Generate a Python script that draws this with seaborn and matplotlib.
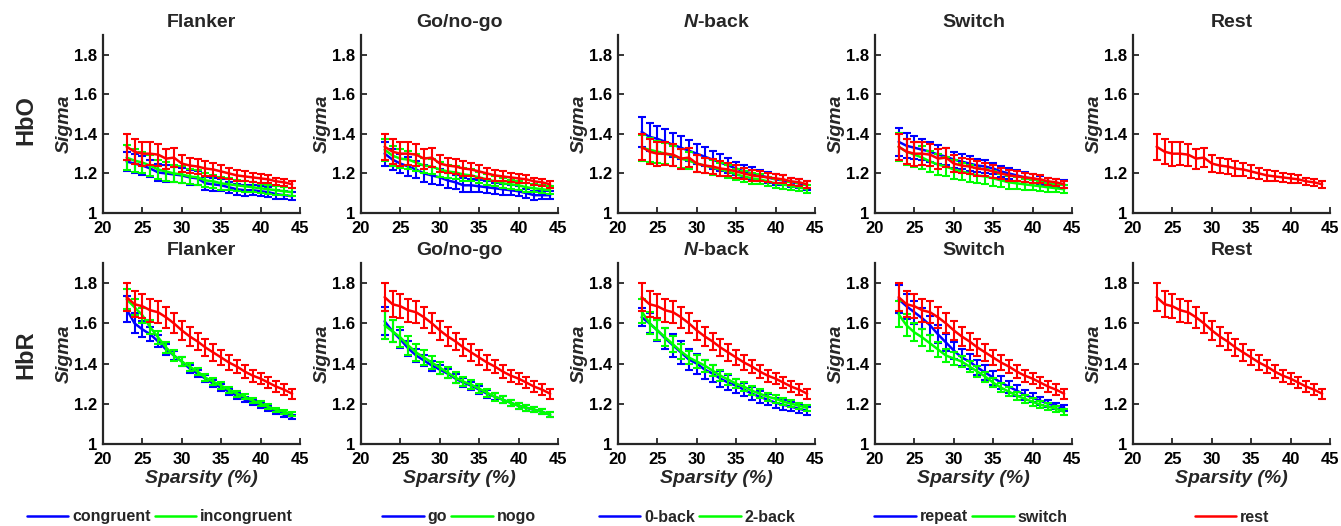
import matplotlib
matplotlib.use('Agg')
import numpy as np
import pandas as pd
import matplotlib.pyplot as plt
from matplotlib.lines import Line2D
import seaborn as sns

# sparsity levels (%)
sparsity = [23, 24, 25, 26, 27, 28, 29, 30, 31, 32, 33, 34, 35, 36, 37, 38, 39, 40, 41, 42, 43, 44]

tasks = ['Flanker', 'Go/no-go', r'$\it{N}$-back', 'Switch', 'Rest']
rows = ['HbO', 'HbR']
conditions = [('congruent', 'incongruent'), ('go', 'nogo'), ('0-back', '2-back'), ('repeat', 'switch'), ()]
ytick_labels = ['1', '1.2', '1.4', '1.6', '1.8']
xtick_labels = ['20', '25', '30', '35', '40', '45']

# ---- HbO ----
hbo_rest = [1.335, 1.31, 1.30, 1.30, 1.295, 1.275, 1.28, 1.25, 1.24, 1.235, 1.225,
            1.22, 1.21, 1.20, 1.19, 1.185, 1.18, 1.175, 1.17, 1.16, 1.155, 1.145]
hbo_rest_err = [0.065, 0.062, 0.06, 0.058, 0.055, 0.05, 0.048, 0.042, 0.04, 0.038, 0.036,
                0.034, 0.031, 0.029, 0.027, 0.025, 0.023, 0.021, 0.02, 0.019, 0.018, 0.017]

hbo_congruent = [1.26, 1.25, 1.24, 1.225, 1.205, 1.20, 1.195, 1.19, 1.18, 1.175, 1.15,
                 1.145, 1.14, 1.13, 1.12, 1.115, 1.115, 1.11, 1.105, 1.095, 1.09, 1.085]
hbo_congruent_err = [0.05, 0.048, 0.046, 0.044, 0.043, 0.042, 0.04, 0.038, 0.036, 0.035, 0.033,
                     0.032, 0.03, 0.029, 0.028, 0.027, 0.026, 0.025, 0.024, 0.022, 0.021, 0.02]
hbo_incongruent = [1.28, 1.265, 1.255, 1.24, 1.22, 1.21, 1.20, 1.195, 1.185, 1.18, 1.165,
                   1.16, 1.15, 1.145, 1.14, 1.135, 1.13, 1.125, 1.12, 1.115, 1.11, 1.105]
hbo_incongruent_err = [0.062, 0.058, 0.055, 0.052, 0.05, 0.048, 0.045, 0.043, 0.04, 0.038, 0.036,
                       0.034, 0.032, 0.03, 0.028, 0.027, 0.026, 0.024, 0.023, 0.022, 0.021, 0.02]

hbo_go = [1.30, 1.27, 1.25, 1.235, 1.22, 1.20, 1.19, 1.18, 1.165, 1.155, 1.14,
          1.14, 1.135, 1.13, 1.125, 1.12, 1.115, 1.11, 1.10, 1.09, 1.09, 1.09]
hbo_go_err = [0.06, 0.055, 0.05, 0.047, 0.045, 0.043, 0.041, 0.04, 0.038, 0.036, 0.035,
              0.033, 0.031, 0.03, 0.028, 0.027, 0.025, 0.024, 0.023, 0.022, 0.021, 0.02]
hbo_nogo = [1.32, 1.29, 1.275, 1.27, 1.255, 1.24, 1.235, 1.22, 1.21, 1.205, 1.195,
            1.19, 1.18, 1.17, 1.16, 1.15, 1.145, 1.14, 1.13, 1.125, 1.12, 1.115]
hbo_nogo_err = [0.055, 0.05, 0.047, 0.045, 0.043, 0.04, 0.038, 0.036, 0.034, 0.033, 0.031,
                0.03, 0.028, 0.027, 0.026, 0.025, 0.024, 0.023, 0.022, 0.021, 0.02, 0.019]

hbo_0back = [1.41, 1.385, 1.375, 1.36, 1.345, 1.33, 1.315, 1.30, 1.285, 1.27, 1.255,
             1.24, 1.225, 1.21, 1.20, 1.19, 1.18, 1.17, 1.165, 1.155, 1.15, 1.14]
hbo_0back_err = [0.075, 0.07, 0.067, 0.063, 0.06, 0.057, 0.053, 0.05, 0.047, 0.045, 0.042,
                 0.04, 0.035, 0.033, 0.031, 0.029, 0.027, 0.026, 0.025, 0.024, 0.023, 0.022]
hbo_2back = [1.33, 1.32, 1.31, 1.30, 1.29, 1.275, 1.265, 1.25, 1.24, 1.23, 1.22,
             1.21, 1.195, 1.185, 1.175, 1.17, 1.16, 1.15, 1.145, 1.135, 1.13, 1.12]
hbo_2back_err = [0.065, 0.06, 0.056, 0.052, 0.05, 0.047, 0.044, 0.041, 0.039, 0.036, 0.034,
                 0.032, 0.03, 0.028, 0.027, 0.025, 0.024, 0.023, 0.022, 0.021, 0.02, 0.02]

hbo_repeat = [1.36, 1.34, 1.33, 1.32, 1.31, 1.295, 1.285, 1.27, 1.26, 1.25, 1.24,
              1.235, 1.225, 1.21, 1.20, 1.19, 1.18, 1.175, 1.165, 1.155, 1.15, 1.145]
hbo_repeat_err = [0.07, 0.062, 0.058, 0.054, 0.05, 0.047, 0.044, 0.04, 0.038, 0.036, 0.034,
                  0.032, 0.03, 0.028, 0.027, 0.026, 0.025, 0.024, 0.023, 0.022, 0.021, 0.02]
hbo_switch = [1.335, 1.31, 1.295, 1.28, 1.26, 1.245, 1.235, 1.22, 1.21, 1.20, 1.19,
              1.185, 1.175, 1.165, 1.155, 1.15, 1.145, 1.14, 1.135, 1.13, 1.125, 1.12]
hbo_switch_err = [0.07, 0.065, 0.062, 0.058, 0.055, 0.052, 0.05, 0.047, 0.045, 0.043, 0.04,
                  0.038, 0.036, 0.034, 0.032, 0.03, 0.028, 0.026, 0.025, 0.023, 0.021, 0.02]

# ---- HbR ----
hbr_rest = [1.73, 1.695, 1.685, 1.665, 1.655, 1.63, 1.60, 1.565, 1.535, 1.51, 1.48,
            1.455, 1.43, 1.405, 1.385, 1.36, 1.34, 1.325, 1.305, 1.285, 1.27, 1.25]
hbr_rest_err = [0.07, 0.065, 0.06, 0.058, 0.055, 0.053, 0.05, 0.048, 0.046, 0.044, 0.042,
                0.04, 0.038, 0.036, 0.034, 0.032, 0.03, 0.029, 0.028, 0.027, 0.026, 0.025]

hbr_congruent = [1.67, 1.60, 1.57, 1.545, 1.51, 1.47, 1.44, 1.41, 1.375, 1.35, 1.325,
                 1.30, 1.28, 1.26, 1.24, 1.22, 1.205, 1.19, 1.175, 1.16, 1.145, 1.135]
hbr_congruent_err = [0.065, 0.05, 0.04, 0.035, 0.03, 0.027, 0.024, 0.022, 0.02, 0.019, 0.018,
                     0.017, 0.016, 0.015, 0.014, 0.013, 0.013, 0.012, 0.012, 0.011, 0.011, 0.01]
hbr_incongruent = [1.72, 1.68, 1.64, 1.58, 1.53, 1.48, 1.44, 1.41, 1.385, 1.36, 1.33,
                   1.31, 1.29, 1.27, 1.25, 1.235, 1.215, 1.20, 1.185, 1.17, 1.16, 1.15]
hbr_incongruent_err = [0.05, 0.04, 0.037, 0.035, 0.032, 0.028, 0.025, 0.022, 0.02, 0.019, 0.018,
                       0.017, 0.016, 0.015, 0.014, 0.013, 0.013, 0.012, 0.012, 0.011, 0.011, 0.01]

hbr_go = [1.61, 1.56, 1.52, 1.475, 1.44, 1.415, 1.39, 1.37, 1.35, 1.325, 1.305,
          1.29, 1.27, 1.25, 1.235, 1.22, 1.205, 1.19, 1.18, 1.17, 1.16, 1.145]
hbr_go_err = [0.07, 0.055, 0.045, 0.035, 0.03, 0.026, 0.025, 0.024, 0.023, 0.022, 0.021,
              0.02, 0.02, 0.019, 0.018, 0.017, 0.016, 0.015, 0.014, 0.013, 0.013, 0.012]
hbr_nogo = [1.59, 1.56, 1.53, 1.49, 1.455, 1.43, 1.405, 1.38, 1.355, 1.33, 1.31,
            1.295, 1.275, 1.255, 1.235, 1.22, 1.205, 1.19, 1.18, 1.17, 1.16, 1.145]
hbr_nogo_err = [0.07, 0.055, 0.05, 0.045, 0.04, 0.036, 0.033, 0.03, 0.028, 0.026, 0.024,
                0.022, 0.021, 0.02, 0.019, 0.017, 0.016, 0.015, 0.014, 0.013, 0.013, 0.012]

hbr_0back = [1.63, 1.60, 1.565, 1.525, 1.49, 1.455, 1.42, 1.40, 1.37, 1.35, 1.325,
             1.305, 1.29, 1.27, 1.25, 1.235, 1.22, 1.205, 1.195, 1.185, 1.175, 1.165]
hbr_0back_err = [0.045, 0.05, 0.052, 0.054, 0.055, 0.055, 0.052, 0.05, 0.047, 0.044, 0.04,
                 0.038, 0.035, 0.033, 0.031, 0.029, 0.027, 0.025, 0.024, 0.022, 0.021, 0.02]
hbr_2back = [1.66, 1.60, 1.565, 1.53, 1.495, 1.46, 1.43, 1.41, 1.39, 1.365, 1.34,
             1.32, 1.30, 1.285, 1.265, 1.25, 1.235, 1.225, 1.21, 1.20, 1.19, 1.18]
hbr_2back_err = [0.06, 0.055, 0.05, 0.045, 0.04, 0.037, 0.034, 0.032, 0.03, 0.028, 0.027,
                 0.026, 0.024, 0.023, 0.022, 0.021, 0.02, 0.019, 0.018, 0.017, 0.016, 0.015]

hbr_repeat = [1.72, 1.685, 1.655, 1.625, 1.59, 1.545, 1.505, 1.465, 1.43, 1.41, 1.38,
              1.355, 1.33, 1.305, 1.285, 1.265, 1.245, 1.23, 1.215, 1.20, 1.19, 1.18]
hbr_repeat_err = [0.07, 0.062, 0.056, 0.052, 0.048, 0.045, 0.043, 0.041, 0.04, 0.038, 0.037,
                  0.036, 0.035, 0.032, 0.03, 0.027, 0.025, 0.022, 0.02, 0.018, 0.016, 0.015]
hbr_switch = [1.645, 1.59, 1.555, 1.53, 1.50, 1.47, 1.44, 1.425, 1.41, 1.385, 1.36,
              1.335, 1.305, 1.28, 1.26, 1.24, 1.225, 1.21, 1.195, 1.185, 1.175, 1.16]
hbr_switch_err = [0.065, 0.055, 0.045, 0.042, 0.04, 0.037, 0.034, 0.03, 0.028, 0.027, 0.026,
                  0.025, 0.024, 0.023, 0.022, 0.021, 0.02, 0.019, 0.018, 0.017, 0.016, 0.015]

BLUE, GREEN, RED = '#0000ff', '#00ff00', '#ff0000'

panels = {
    'HbO': [
        [('congruent', hbo_congruent, hbo_congruent_err, BLUE), ('incongruent', hbo_incongruent, hbo_incongruent_err, GREEN)],
        [('go', hbo_go, hbo_go_err, BLUE), ('nogo', hbo_nogo, hbo_nogo_err, GREEN)],
        [('0-back', hbo_0back, hbo_0back_err, BLUE), ('2-back', hbo_2back, hbo_2back_err, GREEN)],
        [('repeat', hbo_repeat, hbo_repeat_err, BLUE), ('switch', hbo_switch, hbo_switch_err, GREEN)],
        [],
    ],
    'HbR': [
        [('congruent', hbr_congruent, hbr_congruent_err, BLUE), ('incongruent', hbr_incongruent, hbr_incongruent_err, GREEN)],
        [('go', hbr_go, hbr_go_err, BLUE), ('nogo', hbr_nogo, hbr_nogo_err, GREEN)],
        [('0-back', hbr_0back, hbr_0back_err, BLUE), ('2-back', hbr_2back, hbr_2back_err, GREEN)],
        [('repeat', hbr_repeat, hbr_repeat_err, BLUE), ('switch', hbr_switch, hbr_switch_err, GREEN)],
        [],
    ],
}
rest = {'HbO': (hbo_rest, hbo_rest_err), 'HbR': (hbr_rest, hbr_rest_err)}

sns.set_style('ticks')
plt.rcParams['font.family'] = ['Liberation Sans', 'DejaVu Sans']
plt.rcParams['font.weight'] = 'bold'
plt.rcParams['mathtext.fontset'] = 'custom'
plt.rcParams['mathtext.it'] = 'Liberation Sans:italic:bold'
plt.rcParams['mathtext.rm'] = 'Liberation Sans:bold'

W, H = 1341, 526
fig = plt.figure(figsize=(W / 100, H / 100), dpi=100)

col_left = [103, 361, 618, 875, 1133]
ax_w = 197
row_box = {'HbO': (35, 213), 'HbR': (263, 444)}
row_label_y = {'HbO': 120, 'HbR': 355}
legend_cx = [160, 459, 697, 971, 1232]


def draw_series(ax, mean, err, color):
    df = pd.DataFrame({'sparsity': sparsity, 'sigma': mean})
    sns.lineplot(data=df, x='sparsity', y='sigma', color=color, linewidth=1.8, ax=ax, legend=False)
    ax.errorbar(sparsity, mean, yerr=err, fmt='none', ecolor=color,
                elinewidth=1.5, capsize=2.6, capthick=1.5)


for r, row in enumerate(rows):
    top, bot = row_box[row]
    for c in range(5):
        ax = fig.add_axes([col_left[c] / W, 1 - bot / H, ax_w / W, (bot - top) / H])
        for label, mean, err, color in panels[row][c]:
            draw_series(ax, mean, err, color)
        draw_series(ax, rest[row][0], rest[row][1], RED)

        ax.set_xlim(20, 45)
        ax.set_ylim(1, 1.9)
        ax.set_xticks([20, 25, 30, 35, 40, 45])
        ax.set_xticklabels(xtick_labels)
        ax.set_yticks([1, 1.2, 1.4, 1.6, 1.8])
        ax.set_yticklabels(ytick_labels)
        ax.tick_params(direction='in', length=4, width=1.3, labelsize=12, colors='#262626',
                       labelcolor='black')
        ax.tick_params(axis='x', pad=6)
        ax.tick_params(axis='y', pad=4)
        for lab in ax.get_xticklabels() + ax.get_yticklabels():
            lab.set_fontweight('bold')
        for side in ['left', 'bottom']:
            ax.spines[side].set_linewidth(1.6)
            ax.spines[side].set_color('#262626')
        sns.despine(ax=ax)
        ax.set_title(tasks[c], fontsize=14, fontweight='bold', pad=6)
        ax.set_ylabel('Sigma', fontsize=14, fontweight='bold', fontstyle='italic', labelpad=1)
        if row == 'HbR':
            ax.set_xlabel('Sparsity (%)', fontsize=14, fontweight='bold', fontstyle='italic', labelpad=2)
        else:
            ax.set_xlabel('')

    fig.text(26 / W, 1 - row_label_y[row] / H, row, rotation=90, fontsize=17,
             fontweight='bold', ha='center', va='center')

# legends under each column
for c in range(5):
    if conditions[c]:
        handles = [Line2D([], [], color=BLUE, lw=1.8), Line2D([], [], color=GREEN, lw=1.8)]
        labels = list(conditions[c])
    else:
        handles = [Line2D([], [], color=RED, lw=1.8)]
        labels = ['rest']
    fig.legend(handles, labels, loc='center', bbox_to_anchor=(legend_cx[c] / W, 1 - 517 / H),
               ncol=len(labels), frameon=False, handlelength=2.6,
               handletextpad=0.25, columnspacing=0.25, borderpad=0.1,
               prop={'weight': 'bold', 'size': 11.5})

fig.savefig('out.png', dpi=100)
